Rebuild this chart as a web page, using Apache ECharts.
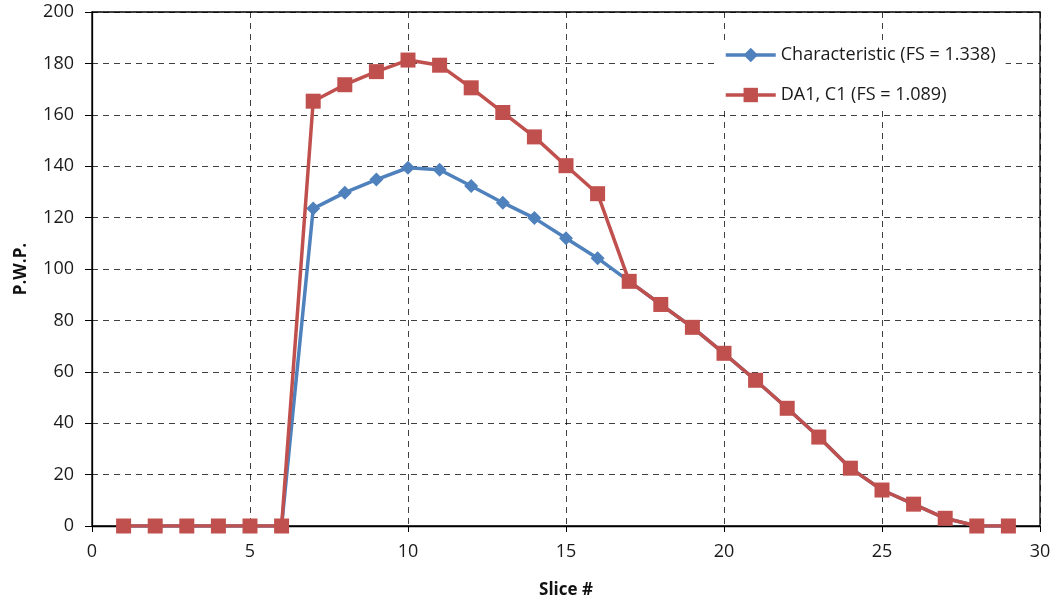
<!DOCTYPE html>
<html>
<head>
<meta charset="utf-8">
<script src="https://cdn.jsdelivr.net/npm/echarts@6/dist/echarts.min.js"></script>
<style>html,body{margin:0;padding:0;background:#fff}#c{width:1056px;height:604px}</style>
</head>
<body>
<div id="c"></div>
<script>
var slices = [1,2,3,4,5,6,7,8,9,10,11,12,13,14,15,16,17,18,19,20,21,22,23,24,25,26,27,28,29];
var characteristic = [0,0,0,0,0,0,123.5,129.7,134.8,139.4,138.6,132.3,125.8,119.8,112,104.2,95.2,86.2,77.3,67.2,56.7,45.8,34.6,22.5,14,8.5,3,0,0];
var da1c1 = [0,0,0,0,0,0,165.3,171.7,176.8,181.3,179.3,170.5,160.9,151.4,140.2,129.3,95.2,86.2,77.3,67.2,56.7,45.8,34.6,22.5,14,8.5,3,0,0];
var seriesNames = ['Characteristic (FS = 1.338)', 'DA1, C1 (FS = 1.089)'];
var xTicks = [0,5,10,15,20,25,30];
var yTicks = [0,20,40,60,80,100,120,140,160,180,200];

function pairs(vals){ return slices.map(function(s,i){ return [s, vals[i]]; }); }

var font = 'Open Sans, Liberation Sans, sans-serif';
var chart = echarts.init(document.getElementById('c'));
chart.setOption({
  animation: false,
  backgroundColor: '#fff',
  grid: { left: 92, right: 16, top: 12, bottom: 77, show: true, borderColor: '#000', borderWidth: 1.3, backgroundColor: 'transparent' },
  legend: {
    orient: 'vertical', left: 716, top: 40, itemGap: 22, itemWidth: 50, itemHeight: 18,
    backgroundColor: '#fff', padding: [6, 10, 6, 8],
    lineStyle: { width: 3.5 },
    textStyle: { fontFamily: font, fontSize: 18, color: '#1a1a1a' },
    data: seriesNames
  },
  xAxis: {
    type: 'value', min: xTicks[0], max: xTicks[xTicks.length-1], interval: 5,
    name: 'Slice #', nameLocation: 'middle', nameGap: 56,
    nameTextStyle: { fontFamily: font, fontSize: 17, fontWeight: 'bold', color: '#111' },
    axisLine: { show: true, lineStyle: { color: '#000', width: 1.3 } },
    axisTick: { show: true, inside: false, length: 6, lineStyle: { color: '#000' } },
    axisLabel: { fontFamily: font, fontSize: 18, color: '#1a1a1a', margin: 17 },
    splitLine: { show: true, lineStyle: { color: '#000', type: [6, 5], width: 1, opacity: 0.75 } }
  },
  yAxis: {
    type: 'value', min: yTicks[0], max: yTicks[yTicks.length-1], interval: 20,
    name: 'P.W.P.', nameLocation: 'middle', nameGap: 62, nameRotate: 90,
    nameTextStyle: { fontFamily: font, fontSize: 17, fontWeight: 'bold', color: '#111' },
    axisLine: { show: true, lineStyle: { color: '#000', width: 1.3 } },
    axisTick: { show: true, inside: false, length: 7, lineStyle: { color: '#000' } },
    axisLabel: { fontFamily: font, fontSize: 18, color: '#1a1a1a', margin: 18 },
    splitLine: { show: true, lineStyle: { color: '#000', type: [6, 5], width: 1, opacity: 0.75 } }
  },
  series: [
    {
      name: seriesNames[0], type: 'line', data: pairs(characteristic),
      symbol: 'diamond', symbolSize: 14, showAllSymbol: true,
      lineStyle: { color: '#4F81BD', width: 3.5 },
      itemStyle: { color: '#4F81BD' }, z: 2
    },
    {
      name: seriesNames[1], type: 'line', data: pairs(da1c1),
      symbol: 'rect', symbolSize: 15, showAllSymbol: true,
      lineStyle: { color: '#C0504D', width: 3.5 },
      itemStyle: { color: '#C0504D' }, z: 3
    }
  ]
});
</script>
</body>
</html>
